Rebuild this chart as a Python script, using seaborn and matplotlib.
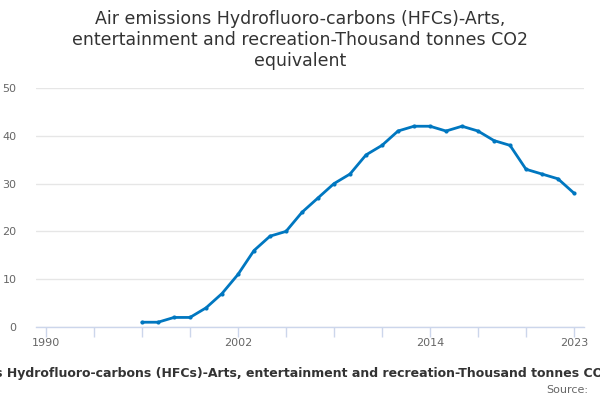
import pandas as pd
import matplotlib.pyplot as plt
import seaborn as sns

# Values
years = list(range(1996, 2024))
emissions = [1, 1, 2, 2, 4, 7, 11, 16, 19, 20, 24, 27, 30, 32, 36, 38,
             41, 42, 42, 41, 42, 41, 39, 38, 33, 32, 31, 28]
tick_years = list(range(1990, 2024, 3))
label_years = [1990, 2002, 2014, 2023]

df = pd.DataFrame({'Year': years, 'Value': emissions})

sns.set_style("white")
plt.rcParams['font.family'] = ['DejaVu Sans']

fig = plt.figure(figsize=(6, 4), dpi=100)
ax = fig.add_axes([36 / 600, 1 - 327 / 400, 548 / 600, 239 / 400])

sns.lineplot(data=df, x='Year', y='Value', ax=ax, color='#0077c0',
             linewidth=2, marker='o', markersize=3, markeredgewidth=0)

ax.set_xlim(1989.375, 2023.625)
ax.set_ylim(0, 50)
ax.set_yticks([0, 10, 20, 30, 40, 50])
ax.yaxis.grid(True, color='#e6e6e6', linewidth=1)
ax.set_axisbelow(True)

# x ticks every 3 years, labels only on a few
ax.set_xticks(tick_years)
ax.set_xticklabels([str(y) if y in label_years else '' for y in tick_years])
ax.tick_params(axis='x', length=7, width=1, color='#ccd6eb', labelcolor='#666666',
               labelsize=8, pad=1, direction='out', bottom=True)
ax.tick_params(axis='y', length=0, labelsize=8, labelcolor='#666666', pad=14)

for side in ['top', 'right', 'left']:
    ax.spines[side].set_visible(False)
ax.spines['bottom'].set_color('#ccd6eb')
ax.spines['bottom'].set_linewidth(1)

ax.set_ylabel('')
ax.set_xlabel('')

fig.text(0.5, 1 - 40 / 400,
         'Air emissions Hydrofluoro-carbons (HFCs)-Arts,\n'
         'entertainment and recreation-Thousand tonnes CO2\n'
         'equivalent',
         ha='center', va='center', fontsize=12.5, color='#333333', linespacing=1.25)

fig.text(0.5, 1 - 373 / 400,
         'Air emissions Hydrofluoro-carbons (HFCs)-Arts, entertainment and recreation-Thousand tonnes CO2 equivalent',
         ha='center', va='center', fontsize=9, fontweight='bold', color='#333333')
fig.text(588 / 600, 1 - 390 / 400, 'Source:', ha='right', va='center',
         fontsize=8, color='#666666')

fig.savefig('out.png', dpi=100)
